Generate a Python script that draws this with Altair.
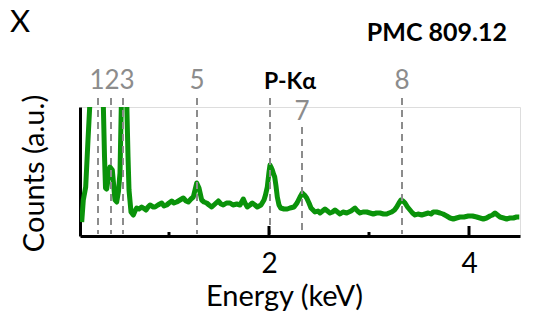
import altair as alt
import pandas as pd

# Spectrum (energy in keV, counts in a.u.)
energy = [0.127,0.143,0.167,0.19,0.21,0.25,0.29,0.32,0.343,0.355,0.365,0.377,0.395,0.41,0.433,0.46,0.477,0.495,0.51,0.525,0.545,0.56,0.577,0.59,0.60,0.62,0.643,0.66,0.677,0.70,0.727,0.743,0.77,0.79,0.81,0.843,0.86,0.89,0.927,0.95,0.977,1.00,1.027,1.05,1.077,1.11,1.143,1.17,1.193,1.22,1.243,1.26,1.277,1.30,1.327,1.35,1.377,1.40,1.427,1.46,1.493,1.52,1.543,1.575,1.61,1.64,1.677,1.71,1.743,1.76,1.783,1.81,1.833,1.86,1.883,1.92,1.95,1.965,1.983,2.00,2.01,2.02,2.033,2.045,2.057,2.07,2.083,2.10,2.117,2.15,2.183,2.21,2.25,2.28,2.31,2.333,2.355,2.377,2.40,2.42,2.46,2.49,2.51,2.535,2.56,2.585,2.61,2.635,2.66,2.685,2.71,2.74,2.777,2.82,2.86,2.885,2.91,2.94,2.977,3.01,3.043,3.075,3.11,3.145,3.177,3.20,3.227,3.255,3.277,3.30,3.32,3.34,3.36,3.385,3.41,3.435,3.46,3.49,3.527,3.56,3.593,3.62,3.643,3.675,3.71,3.74,3.777,3.81,3.843,3.875,3.91,3.95,3.993,4.035,4.077,4.11,4.143,4.175,4.21,4.235,4.26,4.285,4.31,4.345,4.377,4.41,4.443,4.475,4.503]
counts = [14,36,49,96,135,220,260,200,132,80,48,47,60,69,66,36,34,45,63,140,240,230,135,80,46,24,21,25,28,27,29,28,26,29,31,29,29,31,33,30,31,33,35,33,34,36,38,35,34,37,39,46,53,48,36,34,33,31,29,32,35,32,31,33,33,31,32,31,37,33,29,31,33,31,29,31,36,41,49,64,71,69,66,62,59,50,39,31,28,27,27,28,29,33,39,43,41,38,33,28,24,25,23,25,27,25,23,24,26,24,22,24,23,25,28,25,23,24,24,23,22,23,23,22,22,23,24,26,29,33,36,35,33,29,26,23,21,22,21,22,23,22,24,24,23,22,20,18,17,18,19,19,20,20,19,18,17,18,20,21,23,21,19,18,17,18,18,19,19]

# Marked lines (dashed) and their labels
line_energies = [0.29, 0.42, 0.54, 1.28, 2.01, 2.33, 3.33]
line_ids = ["1", "2", "3", "5", "P-Kα", "7", "8"]
label_texts = ["123", "5", "P-Kα", "7", "8"]
label_energies = [0.43, 1.28, 2.01, 2.33, 3.33]

major_ticks = [2, 4]
minor_ticks = [1, 3]

GREEN = "#0a930a"
GRAY = "#8c8c8c"
FONT = "Lato"

spec_df = pd.DataFrame({"e": energy, "v": counts})
lines_df = pd.DataFrame({"e": line_energies, "id": line_ids})
labels_df = pd.DataFrame({"e": label_energies, "label": label_texts})

xscale = alt.Scale(domain=[0.11, 4.51], nice=False, zero=False)
yscale = alt.Scale(domain=[0, 129], nice=False, zero=True)

xaxis = alt.Axis(
    values=major_ticks, title="Energy (keV)", grid=False, ticks=False, tickSize=0,
    labelPadding=36, labelBaseline="alphabetic", labelFont=FONT, labelFontSize=28,
    labelColor="black", labelFlush=False, format="d",
    domainColor="black", domainWidth=3,
    titleFont=FONT, titleFontSize=29, titleFontWeight="normal", titleColor="black",
    titleX=204, titleY=69, titleAlign="center", titleBaseline="alphabetic")
xe = alt.X("e:Q", scale=xscale, axis=xaxis)

line = alt.Chart(spec_df).mark_line(
    clip=True, color=GREEN, strokeWidth=5, strokeJoin="round"
).encode(
    x=xe,
    y=alt.Y("v:Q", scale=yscale, axis=alt.Axis(
        title="Counts (a.u.)", labels=False, ticks=False, grid=False,
        domainColor="black", domainWidth=3,
        titleFont=FONT, titleFontSize=29, titleFontWeight="normal", titleColor="black",
        titleAngle=270, titleX=-46, titleY=66, titleAlign="center", titleBaseline="middle")),
)

rules_hi = alt.Chart(lines_df).transform_filter("datum.id != '7'").mark_rule(
    color=GRAY, strokeWidth=2, strokeDash=[7, 5]
).encode(x=xe, y=alt.value(-9), y2=alt.value(127))

rules_lo = alt.Chart(lines_df).transform_filter("datum.id == '7'").mark_rule(
    color=GRAY, strokeWidth=2, strokeDash=[7, 5]
).encode(x=xe, y=alt.value(20), y2=alt.value(127))

labels_gray = alt.Chart(labels_df).transform_filter(
    "datum.label != '7' && datum.label != 'P-Kα'"
).mark_text(font=FONT, fontSize=26, color=GRAY, align="center", baseline="alphabetic").encode(
    x=xe, y=alt.value(-18), text="label:N")

label7 = alt.Chart(labels_df).transform_filter("datum.label == '7'").mark_text(
    font=FONT, fontSize=26, color=GRAY, align="center", baseline="alphabetic"
).encode(x=xe, y=alt.value(13), text="label:N")

labelP = alt.Chart(labels_df).transform_filter("datum.label == 'P-Kα'").mark_text(
    font=FONT, fontSize=23, fontWeight="bold", color="black", align="left", baseline="alphabetic", dx=-6
).encode(x=xe, y=alt.value(-18), text="label:N")

ticks_major = alt.Chart(pd.DataFrame({"e": major_ticks})).mark_rule(
    color="black", strokeWidth=3
).encode(x=xe, y=alt.value(129), y2=alt.value(119))

ticks_minor = alt.Chart(pd.DataFrame({"e": minor_ticks})).mark_rule(
    color="black", strokeWidth=3
).encode(x=xe, y=alt.value(129), y2=alt.value(125))

title_x = alt.Chart(pd.DataFrame({"t": ["X"]})).mark_text(
    font=FONT, fontSize=31, color="black", align="left", baseline="alphabetic"
).encode(x=alt.value(-70), y=alt.value(-75), text="t:N")

title_pmc = alt.Chart(pd.DataFrame({"t": ["PMC 809.12"]})).mark_text(
    font=FONT, fontSize=25, fontWeight="bold", color="black", align="right", baseline="alphabetic"
).encode(x=alt.value(427), y=alt.value(-66), text="t:N")

chart = alt.layer(
    line, rules_hi, rules_lo, ticks_major, ticks_minor,
    labels_gray, label7, labelP, title_x, title_pmc
).properties(
    width=440, height=129,
    autosize=alt.AutoSizeParams(type="none"),
    padding={"left": 80, "top": 107, "right": 14, "bottom": 88},
).configure_view(stroke=None).configure(background="white")

chart.save("out.html", embed_options={"renderer": "svg", "actions": False})
